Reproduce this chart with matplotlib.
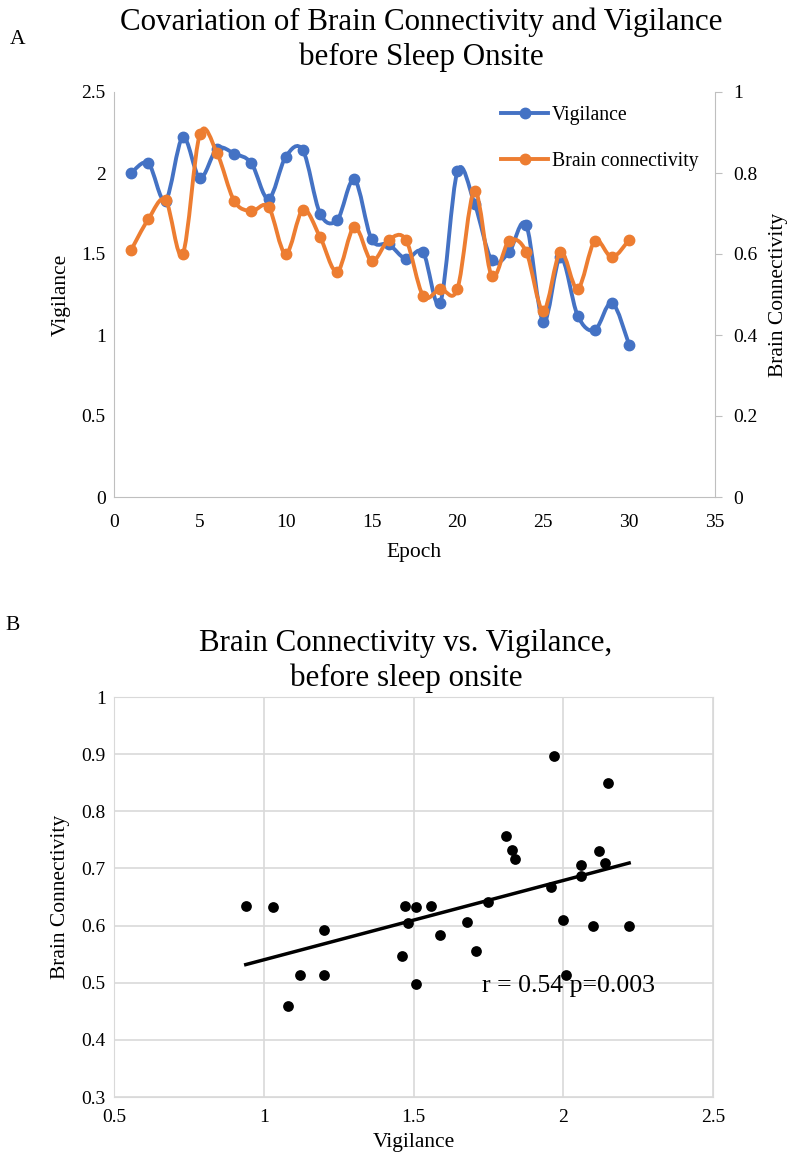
import numpy as np
import matplotlib
matplotlib.use('Agg')
import matplotlib.pyplot as plt
from matplotlib.path import Path
from matplotlib.patches import PathPatch
from matplotlib.lines import Line2D
from matplotlib.ticker import FuncFormatter

plt.rcParams['font.family'] = ['Liberation Serif', 'DejaVu Serif']

C_BLUE = '#4472C4'
C_ORANGE = '#ED7D31'
C_AXIS = '#BFBFBF'
C_GRID = '#D9D9D9'

epochs = list(range(1, 31))
vigilance = [2.00, 2.06, 1.83, 2.22, 1.97, 2.15, 2.12, 2.06, 1.84, 2.10,
             2.14, 1.75, 1.71, 1.96, 1.59, 1.56, 1.47, 1.51, 1.20, 2.01,
             1.81, 1.46, 1.51, 1.68, 1.08, 1.48, 1.12, 1.03, 1.20, 0.94]
connectivity = [0.610, 0.686, 0.733, 0.600, 0.896, 0.849, 0.731, 0.706, 0.716, 0.600,
                0.709, 0.642, 0.556, 0.667, 0.583, 0.635, 0.635, 0.497, 0.514, 0.514,
                0.756, 0.546, 0.632, 0.606, 0.460, 0.605, 0.514, 0.632, 0.592, 0.635]
stats_label = 'r = 0.54 p=0.003'

W, H = 788, 1163


def smooth_path(xs, ys):
    """Catmull-Rom style cubic Bezier through every point."""
    pts = np.column_stack([xs, ys]).astype(float)
    n = len(pts)
    verts = [pts[0]]
    codes = [Path.MOVETO]
    for i in range(n - 1):
        p0 = pts[i - 1] if i > 0 else pts[i]
        p1 = pts[i]
        p2 = pts[i + 1]
        p3 = pts[i + 2] if i + 2 < n else pts[i + 1]
        verts += [p1 + (p2 - p0) / 6.0, p2 - (p3 - p1) / 6.0, p2]
        codes += [Path.CURVE4] * 3
    return Path(verts, codes)


def box(left, top, right, bottom):
    return [left / W, 1 - bottom / H, (right - left) / W, (bottom - top) / H]


fmt = FuncFormatter(lambda v, p: f'{round(v, 1):g}')

fig = plt.figure(figsize=(W / 100, H / 100), dpi=100)

# ---- Panel A: time course with two y axes
ax1 = fig.add_axes(box(114, 92, 715, 497))
ax2 = ax1.twinx()

ax1.add_patch(PathPatch(smooth_path(epochs, vigilance), facecolor='none',
                        edgecolor=C_BLUE, lw=2.8, capstyle='round', zorder=2))
ax1.plot(epochs, vigilance, 'o', color=C_BLUE, ms=7.5, zorder=3)
ax2.add_patch(PathPatch(smooth_path(epochs, connectivity), facecolor='none',
                        edgecolor=C_ORANGE, lw=2.8, capstyle='round', zorder=2))
ax2.plot(epochs, connectivity, 'o', color=C_ORANGE, ms=7.5, zorder=3)

ax1.set_xlim(0, 35)
ax1.set_ylim(0, 2.5)
ax1.set_xticks(range(0, 36, 5))
ax1.set_yticks(np.arange(0, 2.51, 0.5))
ax1.yaxis.set_major_formatter(fmt)
ax2.set_ylim(0, 1)
ax2.set_yticks(np.arange(0, 1.01, 0.2))
ax2.yaxis.set_major_formatter(fmt)

for s in ['top', 'right']:
    ax1.spines[s].set_visible(False)
for s in ['left', 'bottom']:
    ax1.spines[s].set_color(C_AXIS)
for s in ['top', 'left', 'bottom']:
    ax2.spines[s].set_visible(False)
ax2.spines['right'].set_color(C_AXIS)

ax1.tick_params(axis='both', length=0, labelsize=14)
ax1.tick_params(axis='x', pad=12)
ax1.tick_params(axis='y', pad=6)
ax2.tick_params(axis='y', length=5, color=C_AXIS, labelsize=14, pad=8)

ax1.set_xlabel('Epoch', fontsize=15.5, labelpad=9)
ax1.set_ylabel('Vigilance', fontsize=15.5, labelpad=8)
ax2.set_ylabel('Brain Connectivity', fontsize=15.5, labelpad=8)

handles = [Line2D([], [], color=C_BLUE, lw=2.8, marker='o', ms=7.5),
           Line2D([], [], color=C_ORANGE, lw=2.8, marker='o', ms=7.5)]
fig.legend(handles, ['Vigilance', 'Brain connectivity'], loc='upper left',
           bbox_to_anchor=(501 / W, 1 - 106 / H), frameon=False, fontsize=14.2,
           handlelength=2.4, handletextpad=0.2, labelspacing=1.38,
           borderaxespad=0, borderpad=0)

fig.text(421 / W, 1 - 40 / H, 'Covariation of Brain Connectivity and Vigilance\nbefore Sleep Onsite',
         ha='center', va='center', fontsize=22.3, linespacing=1.25)
fig.text(18 / W, 1 - 40 / H, 'A', ha='center', va='center', fontsize=15.5)

# ---- Panel B: scatter with linear fit
ax3 = fig.add_axes(box(114, 697, 713, 1097))
ax3.scatter(vigilance, connectivity, s=60, color='black', zorder=3, linewidths=0)
slope, intercept = np.polyfit(vigilance, connectivity, 1)
xfit = np.array([min(vigilance), max(vigilance)])
ax3.plot(xfit, slope * xfit + intercept, color='black', lw=2.5, zorder=2)

ax3.set_xlim(0.5, 2.5)
ax3.set_ylim(0.3, 1.0)
ax3.set_xticks(np.arange(0.5, 2.51, 0.5))
ax3.set_yticks(np.arange(0.3, 1.01, 0.1))
ax3.xaxis.set_major_formatter(fmt)
ax3.yaxis.set_major_formatter(fmt)
ax3.grid(True, color=C_GRID, lw=1.2)
ax3.set_axisbelow(True)
for s in ax3.spines.values():
    s.set_color(C_GRID)
ax3.tick_params(axis='both', length=0, labelsize=14)
ax3.tick_params(axis='x', pad=9)
ax3.tick_params(axis='y', pad=6)
ax3.set_xlabel('Vigilance', fontsize=15.5, labelpad=5)
ax3.set_ylabel('Brain Connectivity', fontsize=15.5, labelpad=8)

ax3.text(1.73, 0.495, stats_label, ha='left', va='center', fontsize=18.5)

fig.text(406 / W, 1 - 661 / H, 'Brain Connectivity vs. Vigilance,\nbefore sleep onsite',
         ha='center', va='center', fontsize=22.3, linespacing=1.25)
fig.text(13 / W, 1 - 625 / H, 'B', ha='center', va='center', fontsize=15.5)

fig.savefig('out.png', dpi=100)
